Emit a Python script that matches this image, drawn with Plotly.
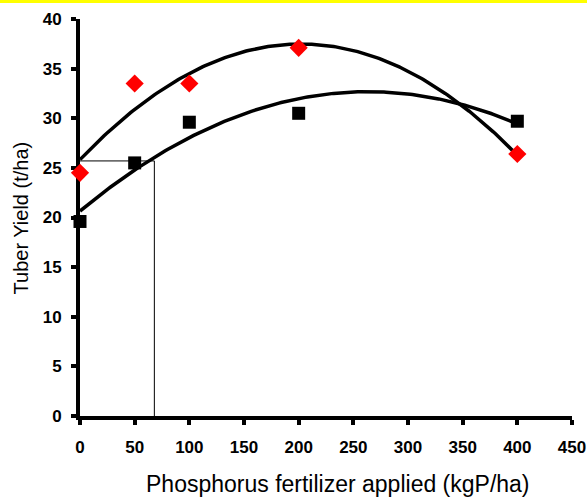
import numpy as np
import plotly.graph_objects as go

# Data
p_rate = [0, 50, 100, 200, 400]
yield_red = [24.5, 33.5, 33.5, 37.1, 26.4]
yield_black = [19.6, 25.5, 29.6, 30.5, 29.7]
x_ticks = [0, 50, 100, 150, 200, 250, 300, 350, 400, 450]
y_ticks = [0, 5, 10, 15, 20, 25, 30, 35, 40]
# guide lines (reading of yield on black curve)
guide_x = 68
guide_y = 25.7

# quadratic trendlines (Excel-style polynomial fit of order 2)
xs = np.linspace(0, 400, 201)
fit_red = np.polyval(np.polyfit(p_rate, yield_red, 2), xs)
fit_black = np.polyval(np.polyfit(p_rate, yield_black, 2), xs)

fig = go.Figure()
fig.add_trace(go.Scatter(x=[0, guide_x, guide_x], y=[guide_y, guide_y, 0], mode="lines",
                         line=dict(color="black", width=1), showlegend=False, hoverinfo="skip"))
fig.add_trace(go.Scatter(x=xs, y=fit_red, mode="lines", line=dict(color="black", width=3.5),
                         showlegend=False, cliponaxis=False))
fig.add_trace(go.Scatter(x=xs, y=fit_black, mode="lines", line=dict(color="black", width=3.5),
                         showlegend=False, cliponaxis=False))
fig.add_trace(go.Scatter(x=p_rate, y=yield_red, mode="markers",
                         marker=dict(symbol="diamond", color="#FF0000", size=14),
                         showlegend=False, cliponaxis=False))
fig.add_trace(go.Scatter(x=p_rate, y=yield_black, mode="markers",
                         marker=dict(symbol="square", color="black", size=13),
                         showlegend=False, cliponaxis=False))

fig.add_shape(type="rect", xref="paper", yref="paper", x0=-0.2, x1=1.1,
              y0=1 + 16 / 397, y1=1 + 22 / 397, fillcolor="#FFFF00", line=dict(width=0),
              layer="above")

titlefont = dict(family="Liberation Sans, Arial", color="black")
fig.add_annotation(text="Phosphorus fertilizer applied (kgP/ha)", xref="paper", yref="paper",
                   x=0.524, y=-0.171, showarrow=False, xanchor="center", yanchor="middle",
                   font=dict(size=23, **titlefont))
fig.add_annotation(text="Tuber Yield (t/ha)", xref="paper", yref="paper", textangle=-90,
                   x=-0.12, y=0.5, showarrow=False, xanchor="center", yanchor="middle",
                   font=dict(size=20, **titlefont))

tickfont = dict(family="Liberation Sans, Arial", size=17, color="black", weight="bold")
fig.update_layout(
    width=587, height=498,
    margin=dict(l=80, r=15, t=19, b=82),
    plot_bgcolor="white", paper_bgcolor="white",
    xaxis=dict(range=[0, 450], tickvals=x_ticks, showgrid=False, zeroline=False,
               showline=True, linecolor="black", linewidth=4, ticks="outside",
               ticklen=5, tickwidth=4, tickcolor="black", tickfont=tickfont,
               ticklabelstandoff=8, layer="below traces", automargin=False),
    yaxis=dict(range=[0, 40], tickvals=y_ticks, showgrid=False, zeroline=False,
               showline=True, linecolor="black", linewidth=4, ticks="outside",
               ticklen=5, tickwidth=4, tickcolor="black", tickfont=tickfont,
               ticklabelstandoff=6, layer="below traces", automargin=False),
)
fig.write_html("out.html", config={"displayModeBar": False},
               post_script="document.body.style.margin='0px';document.body.style.overflow='hidden';")
